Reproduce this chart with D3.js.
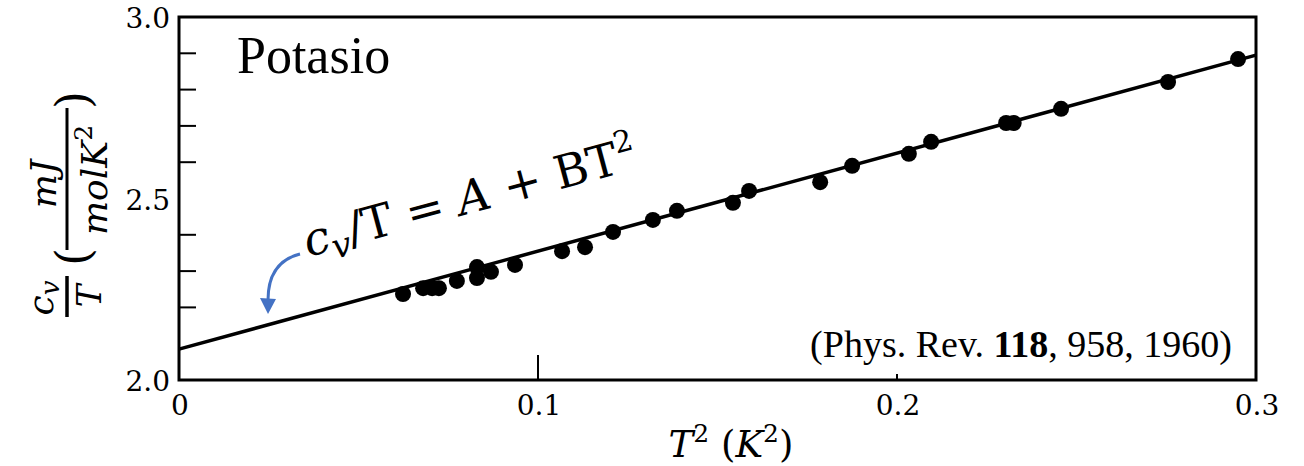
<!DOCTYPE html>
<html><head><meta charset="utf-8">
<script src="https://cdn.jsdelivr.net/npm/d3@7"></script>
<style>html,body{margin:0;padding:0;background:#fff;}svg{display:block;}</style>
</head><body>
<svg id="c" width="1304" height="466"></svg>
<script>
// ---- data ----
const t2 = [0.0624,0.0680,0.0705,0.0724,0.0774,0.0830,0.0830,0.0869,0.0936,0.1067,0.1131,0.1209,0.1320,0.1387,0.1543,0.1588,0.1786,0.1875,0.2033,0.2095,0.2304,0.2325,0.2457,0.2755,0.2950];
const cvT = [2.237,2.253,2.253,2.253,2.273,2.311,2.281,2.298,2.317,2.355,2.366,2.408,2.441,2.466,2.488,2.521,2.545,2.590,2.623,2.656,2.708,2.708,2.747,2.821,2.884];
const fitA = 2.085, fitB = 2.70;
const xTickVals = [0, 0.1, 0.2, 0.3];
const xTickLabels = ["0", "0.1", "0.2", "0.3"];
const yTickVals = [2.0, 2.5, 3.0];
const yTickLabels = ["2.0", "2.5", "3.0"];
const yMinorVals = [2.2,2.3,2.4,2.6,2.7,2.8,2.9];
const titleText = "Potasio";
const citePre = "(Phys. Rev. ", citeBold = "118", citePost = ", 958, 1960)";

const svg = d3.select("#c");
const L = 179, R = 1256, T = 17, B = 380;
const x = d3.scaleLinear().domain([0, 0.3]).range([L, R]);
const y = d3.scaleLinear().domain([2.0, 3.0]).range([B, T]);
const serif = "'Liberation Serif', 'Times New Roman', serif";
const math = "'DejaVu Serif', serif";

// frame
svg.append("rect").attr("x", L).attr("y", T).attr("width", R - L).attr("height", B - T)
  .attr("fill", "none").attr("stroke", "#000").attr("stroke-width", 3);

// y minor ticks (inward)
svg.append("g").selectAll("line").data(yMinorVals).join("line")
  .attr("x1", L).attr("x2", L + 17).attr("y1", d => y(d)).attr("y2", d => y(d))
  .attr("stroke", "#000").attr("stroke-width", 2);
// x ticks
svg.append("line").attr("x1", x(0.1)).attr("x2", x(0.1)).attr("y1", B).attr("y2", B - 25).attr("stroke", "#000").attr("stroke-width", 2);
svg.append("line").attr("x1", x(0.2)).attr("x2", x(0.2)).attr("y1", B).attr("y2", B - 6).attr("stroke", "#000").attr("stroke-width", 2);

// tick labels
svg.append("g").selectAll("text").data(xTickVals).join("text")
  .attr("x", d => x(d) + 1).attr("y", 415).attr("text-anchor", "middle")
  .attr("font-family", math).attr("font-size", 28).text((d, i) => xTickLabels[i]);
svg.append("g").selectAll("text").data(yTickVals).join("text")
  .attr("x", 170).attr("y", d => y(d) + 11).attr("text-anchor", "end")
  .attr("font-family", math).attr("font-size", 28).text((d, i) => yTickLabels[i]);

// fit line
svg.append("line").attr("x1", x(0)).attr("y1", y(fitA)).attr("x2", x(0.3)).attr("y2", y(fitA + fitB * 0.3))
  .attr("stroke", "#000").attr("stroke-width", 3.5);

// points
svg.append("g").selectAll("circle").data(t2).join("circle")
  .attr("cx", d => x(d)).attr("cy", (d, i) => y(cvT[i])).attr("r", 8).attr("fill", "#000");

// title
svg.append("text").attr("x", 237).attr("y", 73).attr("font-family", serif).attr("font-size", 52).text(titleText);

// citation
const cite = svg.append("text").attr("x", 1232).attr("y", 357).attr("text-anchor", "end")
  .attr("font-family", serif).attr("font-size", 38);
cite.append("tspan").text(citePre);
cite.append("tspan").attr("font-weight", "bold").text(citeBold);
cite.append("tspan").text(citePost);

// equation (rotated)
const eq = svg.append("text").attr("transform", "translate(308,257) rotate(-15)")
  .attr("font-family", math).attr("font-size", 46);
eq.append("tspan").attr("font-style", "italic").text("c");
eq.append("tspan").attr("font-style", "italic").attr("font-size", 34).attr("dy", 9).text("v");
eq.append("tspan").attr("dy", -9).text("/T = ");
eq.append("tspan").attr("font-style", "italic").text("A");
eq.append("tspan").text(" + BT");
eq.append("tspan").attr("font-size", 30).attr("dy", -20).text("2");

// blue arrow
svg.append("path").attr("d", "M300,254 Q268,262 268,300").attr("fill", "none")
  .attr("stroke", "#4472C4").attr("stroke-width", 3);
svg.append("path").attr("d", "M260,298 L276,299 L268,314 Z").attr("fill", "#4472C4");

// x axis label
const xl = svg.append("text").attr("x", 731).attr("y", 457).attr("text-anchor", "middle")
  .attr("font-family", math).attr("font-size", 37);
xl.append("tspan").attr("font-style", "italic").text("T");
xl.append("tspan").attr("font-size", 25).attr("dy", -15).text("2");
xl.append("tspan").attr("dy", 15).text(" (");
xl.append("tspan").attr("font-style", "italic").text("K");
xl.append("tspan").attr("font-size", 25).attr("dy", -15).text("2");
xl.append("tspan").attr("dy", 15).text(")");

// y axis label (rotated fractions)
const yl = svg.append("g").attr("transform", "translate(67,0) rotate(-90)")
  .attr("font-family", math);
// c_v / T
const num1 = yl.append("text").attr("x", -298).attr("y", -14).attr("text-anchor", "middle").attr("font-size", 36);
num1.append("tspan").attr("font-style", "italic").text("c");
num1.append("tspan").attr("font-style", "italic").attr("font-size", 26).attr("dy", 6).text("v");
yl.append("line").attr("x1", -317).attr("x2", -276).attr("y1", 0).attr("y2", 0).attr("stroke", "#000").attr("stroke-width", 3.5);
yl.append("text").attr("x", -296).attr("y", 34).attr("text-anchor", "middle").attr("font-size", 34).attr("font-style", "italic").text("T");
yl.append("text").attr("x", -257).attr("y", 22).attr("text-anchor", "middle").attr("font-size", 46).text("(");
// mJ / molK^2
yl.append("text").attr("x", -184).attr("y", -11).attr("text-anchor", "middle").attr("font-size", 36).attr("font-style", "italic").text("mJ");
yl.append("line").attr("x1", -250).attr("x2", -108).attr("y1", 0).attr("y2", 0).attr("stroke", "#000").attr("stroke-width", 3);
const den2 = yl.append("text").attr("x", -180).attr("y", 40).attr("text-anchor", "middle").attr("font-size", 36);
den2.append("tspan").attr("font-style", "italic").text("molK");
den2.append("tspan").attr("font-size", 25).attr("dy", -15).text("2");
yl.append("text").attr("x", -100).attr("y", 22).attr("text-anchor", "middle").attr("font-size", 46).text(")");
</script>
</body></html>
